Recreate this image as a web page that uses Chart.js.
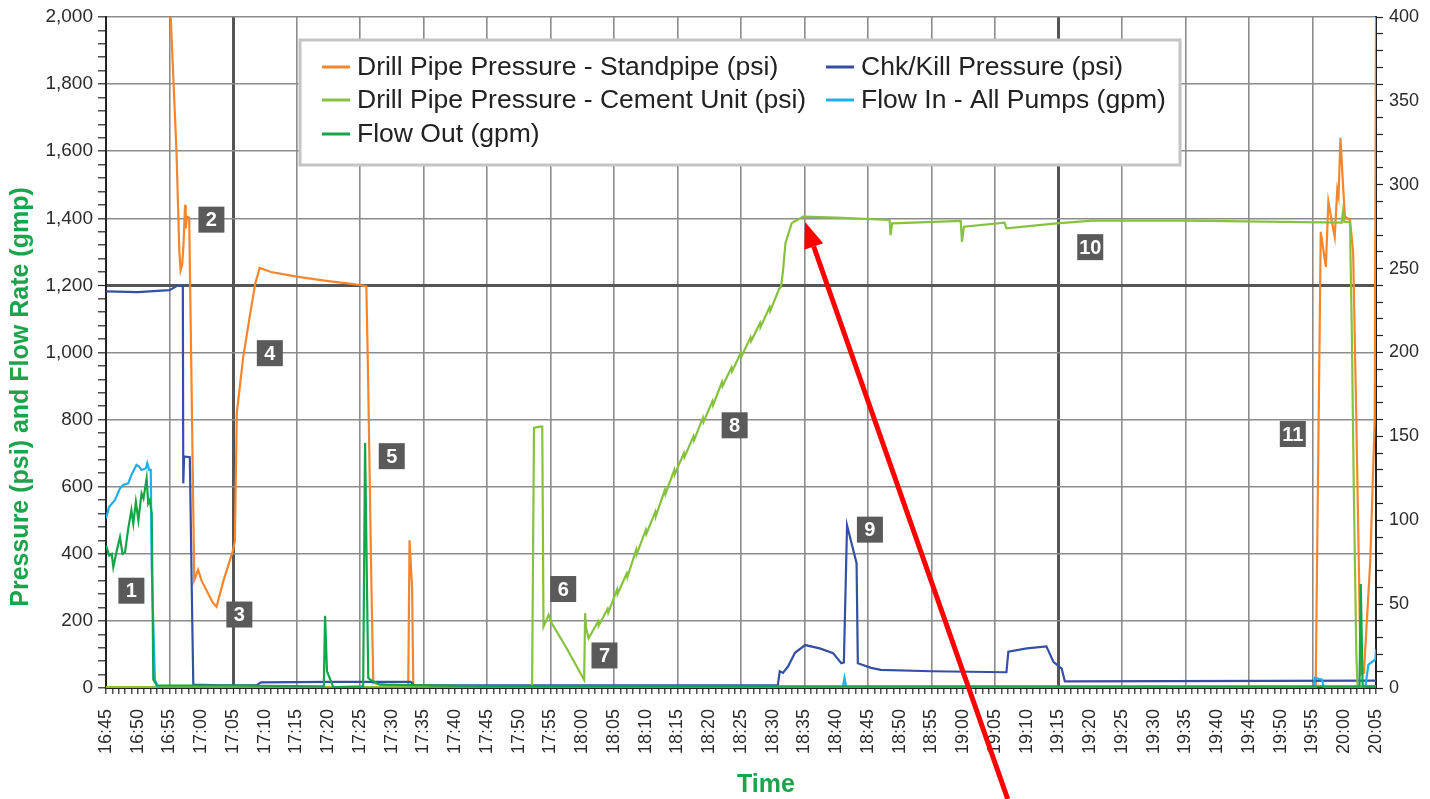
<!DOCTYPE html>
<html>
<head>
<meta charset="utf-8">
<script src="https://cdn.jsdelivr.net/npm/chart.js@4.4.1/dist/chart.umd.min.js"></script>
<style>
  html, body { margin: 0; padding: 0; background: #fff; }
  #wrap { width: 1430px; height: 799px; position: relative; }
</style>
</head>
<body>
<div id="wrap"><canvas id="chart"></canvas></div>
<script>
// time is in minutes after 16:45, pressures in psi, flows in gpm
const startMinute = 16 * 60 + 45;

const standpipe = [
  [10.0, 2100], [10.2, 2000], [10.6, 1820], [11.1, 1600], [11.55, 1300], [11.75, 1245], [12.0, 1262],
  [12.2, 1320], [12.45, 1440], [12.55, 1370], [12.75, 1405], [13.1, 1402], [13.4, 1000], [13.9, 322],
  [14.5, 352], [15.05, 320], [16.0, 285], [16.8, 255], [17.4, 242], [18.5, 320], [20.0, 410],
  [20.3, 440], [20.6, 820], [21.6, 985], [22.7, 1115], [23.5, 1205], [24.2, 1252], [26.0, 1240],
  [30.0, 1226], [35.0, 1213], [39.0, 1204], [41.0, 1198], [41.3, 900], [41.8, 300], [42.1, 15],
  [44.0, 10], [47.6, 8], [47.8, 440], [48.2, 300], [48.4, 5], [60.0, 3], [190.5, 3], [191.3, 1360],
  [192.1, 1255], [192.5, 1450], [193.0, 1395], [193.5, 1345], [193.9, 1485], [194.1, 1465],
  [194.4, 1640], [194.7, 1535], [195.1, 1405], [195.9, 1395], [196.4, 1300], [196.9, 800],
  [197.6, 40], [198.1, 45], [199.1, 380], [199.8, 800], [200.0, 2000]
];

const chkKill = [
  [0, 1182], [5, 1180], [10, 1186], [11.2, 1199], [12.1, 1199], [12.17, 610], [12.3, 690],
  [13.2, 688], [13.5, 300], [13.75, 10], [18, 8], [23.7, 8], [24.4, 17], [35, 18], [48, 18],
  [48.5, 8], [105.8, 8], [106.1, 50], [106.6, 45], [107.4, 64], [108.5, 105], [110.1, 128],
  [112.4, 118], [114.5, 104], [115.8, 74], [116.2, 76], [116.7, 485], [118.2, 372], [118.4, 74],
  [119.3, 68], [120.5, 60], [122, 54], [130, 50], [141.8, 47], [142.1, 108], [145, 118],
  [148.1, 124], [149.2, 78], [150.5, 58], [151.0, 20], [200, 22]
];

const cementUnit = [
  [0, 3], [67.1, 3], [67.4, 775], [68.3, 779], [68.7, 779], [68.9, 183], [69.3, 200], [69.7, 218],
  [70.2, 193], [72.5, 120], [75.3, 24], [75.45, 223], [75.6, 180], [76.0, 148],
  [77.5, 198], [77.6, 186], [79.0, 236], [79.1, 224], [80.5, 294], [80.6, 282], [82.0, 341],
  [82.1, 330], [83.5, 412], [83.6, 400], [85.0, 471], [85.1, 459], [86.5, 525], [86.6, 513],
  [88.0, 590], [88.1, 578], [89.5, 650], [89.6, 638], [91.0, 700], [91.1, 688], [92.5, 750],
  [92.6, 738], [94.0, 805], [94.1, 793], [95.5, 855], [95.6, 843], [97.0, 912], [97.1, 900],
  [98.5, 955], [98.6, 944], [100.0, 1000], [100.1, 989], [101.5, 1045], [101.6, 1034],
  [103.0, 1088], [103.1, 1077], [104.5, 1135], [104.6, 1124], [106.0, 1190], [106.3, 1196],
  [106.6, 1240], [107.0, 1326], [108.0, 1386], [109.8, 1405], [115, 1402], [123.4, 1395],
  [123.55, 1350], [123.8, 1385], [134.6, 1392], [134.8, 1330], [135.1, 1375], [141.5, 1387],
  [141.8, 1370], [149.7, 1385], [155.4, 1393], [170, 1393], [194.6, 1387], [194.8, 1420],
  [195.0, 1390], [195.9, 1388], [196.2, 1050], [196.5, 600], [196.9, 100], [197.1, 5], [200, 5]
];

const flowIn = [
  [0, 101], [0.5, 108], [1.4, 112], [2.2, 119], [2.7, 121], [3.5, 122], [4.0, 127], [4.8, 133],
  [5.2, 132], [5.6, 130], [6.3, 131], [6.5, 134], [6.8, 130], [7.05, 130], [7.2, 72], [7.7, 5],
  [8.25, 0], [116.0, 0], [116.3, 6], [116.6, 0], [190.1, 0], [190.4, 6], [191.5, 5], [191.8, 0],
  [198.3, 0], [198.8, 14], [199.9, 17], [200, 23]
];

const flowOut = [
  [0, 85], [0.5, 79], [0.9, 80], [1.15, 72], [1.7, 82], [2.2, 90], [2.6, 80], [3.0, 81], [3.5, 95],
  [4.0, 106], [4.3, 98], [4.7, 111], [5.1, 100], [5.6, 116], [5.9, 113], [6.4, 125], [6.65, 110],
  [6.9, 112], [7.2, 104], [7.45, 5], [8.0, 1.5], [12, 1.5], [20, 1.5], [34.3, 1], [34.5, 43],
  [34.8, 10], [35.8, 0.5], [40.5, 1], [40.8, 146], [41.1, 60], [41.3, 6], [41.6, 5], [43.1, 2],
  [60, 1], [100, 1], [197.4, 1], [197.6, 62], [197.9, 1], [200, 1]
];

const seriesLabels = [
  'Drill Pipe Pressure - Standpipe (psi)', 'Chk/Kill Pressure (psi)',
  'Drill Pipe Pressure - Cement Unit (psi)', 'Flow In - All Pumps (gpm)', 'Flow Out (gpm)'
];
const seriesColors = ['#f5862e', '#3450a3', '#86c23f', '#1db0ea', '#17a54a'];

// numbered event boxes
const noteLabels = ['1', '2', '3', '4', '5', '6', '7', '8', '9', '10', '11'];
const noteTimes = [4.0, 16.6, 21.0, 25.8, 45.0, 72.0, 78.5, 99.0, 120.3, 155.0, 186.9];
const noteValues = [290, 1396, 219, 998, 691, 295, 97, 783, 472, 1314, 757];

// red arrow: from (time, psi) to (time, psi)
const arrowFrom = [142.0, -331];
const arrowTo = [110.1, 1389];

const xTitle = 'Time';
const yTitle = 'Pressure (psi) and Flow Rate (gmp)';

const fontFamily = '"Liberation Sans", Arial, sans-serif';
const titleGreen = '#1ca34c';

function toXY(arr) {
  return arr.map(p => ({ x: p[0], y: p[1] }));
}

function clock(v) {
  const t = startMinute + v;
  const h = Math.floor(t / 60), m = t % 60;
  return h + ':' + String(m).padStart(2, '0');
}

const seriesData = [standpipe, chkKill, cementUnit, flowIn, flowOut];
const seriesAxis = ['y', 'y', 'y', 'y1', 'y1'];

const datasets = seriesData.map((d, i) => ({
  label: seriesLabels[i],
  data: toXY(d),
  yAxisID: seriesAxis[i],
  borderColor: seriesColors[i],
  backgroundColor: seriesColors[i],
  borderWidth: 2.2,
  pointRadius: 0,
  tension: 0,
  order: 4 - i
}));

const overlayPlugin = {
  id: 'overlay',
  afterDraw(chart) {
    const ctx = chart.ctx;
    const x = chart.scales.x, y = chart.scales.y;

    // axis titles
    ctx.save();
    ctx.fillStyle = titleGreen;
    ctx.font = 'bold 25px ' + fontFamily;
    ctx.textAlign = 'center';
    ctx.textBaseline = 'middle';
    ctx.fillText(xTitle, 766, 785);
    ctx.translate(21, 397);
    ctx.rotate(-Math.PI / 2);
    ctx.fillText(yTitle, 0, 0);
    ctx.restore();

    // numbered boxes
    ctx.save();
    ctx.font = 'bold 20px ' + fontFamily;
    ctx.textAlign = 'center';
    ctx.textBaseline = 'middle';
    noteLabels.forEach((lab, i) => {
      const cx = x.getPixelForValue(noteTimes[i]);
      const cy = y.getPixelForValue(noteValues[i]);
      const w = 26, h = 26;
      ctx.fillStyle = '#5a5a5a';
      ctx.fillRect(cx - w / 2, cy - h / 2, w, h);
      ctx.fillStyle = '#fff';
      ctx.fillText(lab, cx, cy + 1);
    });
    ctx.restore();

    // legend box
    ctx.save();
    ctx.fillStyle = '#fff';
    ctx.fillRect(300, 40, 880, 125);
    ctx.strokeStyle = '#c4c4c4';
    ctx.lineWidth = 3;
    ctx.strokeRect(300, 40, 880, 125);
    ctx.font = '26.5px ' + fontFamily;
    ctx.textBaseline = 'middle';
    ctx.textAlign = 'left';
    const colX = [322, 826];
    const rowY = [67, 100, 134];
    chart.data.datasets.forEach((ds, i) => {
      const lx = colX[i % 2], ly = rowY[Math.floor(i / 2)];
      ctx.strokeStyle = ds.borderColor;
      ctx.lineWidth = 3;
      ctx.beginPath();
      ctx.moveTo(lx, ly);
      ctx.lineTo(lx + 28, ly);
      ctx.stroke();
      ctx.fillStyle = '#222';
      ctx.fillText(ds.label, lx + 35, ly + 1);
    });
    ctx.restore();

    // red arrow
    const x0 = x.getPixelForValue(arrowFrom[0]), y0 = y.getPixelForValue(arrowFrom[1]);
    const x1 = x.getPixelForValue(arrowTo[0]), y1 = y.getPixelForValue(arrowTo[1]);
    const ang = Math.atan2(y1 - y0, x1 - x0);
    const headLen = 26, headW = 10;
    const bx = x1 - headLen * Math.cos(ang), by = y1 - headLen * Math.sin(ang);
    ctx.save();
    ctx.strokeStyle = '#f00';
    ctx.fillStyle = '#f00';
    ctx.lineWidth = 5;
    ctx.beginPath();
    ctx.moveTo(x0, y0);
    ctx.lineTo(bx, by);
    ctx.stroke();
    ctx.beginPath();
    ctx.moveTo(x1, y1);
    ctx.lineTo(bx + headW * Math.sin(ang), by - headW * Math.cos(ang));
    ctx.lineTo(bx - headW * Math.sin(ang), by + headW * Math.cos(ang));
    ctx.closePath();
    ctx.fill();
    ctx.restore();
  }
};

const ctx = document.getElementById('chart');
new Chart(ctx, {
  type: 'line',
  data: { datasets: datasets },
  options: {
    responsive: true,
    maintainAspectRatio: false,
    animation: false,
    events: [],
    layout: { padding: { top: 17, left: 0, right: 0, bottom: 0 } },
    plugins: { legend: { display: false }, tooltip: { enabled: false } },
    scales: {
      x: {
        type: 'linear',
        min: 0,
        max: 200,
        afterFit(s) { s.height = 111; },
        ticks: {
          stepSize: 1,
          autoSkip: false,
          minRotation: 90,
          maxRotation: 90,
          padding: 15,
          color: '#2b2b2b',
          font: { family: fontFamily, size: 18 },
          callback: v => (v % 5 === 0 ? clock(v) : '')
        },
        grid: {
          color: c => (c.tick.value % 10 === 0 ? ((c.tick.value === 20 || c.tick.value === 150) ? '#555' : '#8c8c8c') : 'rgba(0,0,0,0)'),
          lineWidth: c => ((c.tick.value === 20 || c.tick.value === 150) ? 3 : 1.6),
          tickColor: '#222',
          tickWidth: 1.2,
          tickLength: 6
        },
        border: { color: '#222', width: 2 }
      },
      y: {
        position: 'left',
        min: 0,
        max: 2000,
        afterFit(s) { s.width = 106; },
        ticks: {
          stepSize: 40,
          autoSkip: false,
          padding: 5,
          color: '#2b2b2b',
          font: { family: fontFamily, size: 19 },
          callback: v => (v % 200 === 0 ? v.toLocaleString('en-US') : '')
        },
        grid: {
          color: c => (c.tick.value % 200 === 0 ? (c.tick.value === 1200 ? '#555' : '#8c8c8c') : 'rgba(0,0,0,0)'),
          lineWidth: c => (c.tick.value === 1200 ? 3 : 1.6),
          tickColor: '#222',
          tickWidth: 1.2,
          tickLength: 8
        },
        border: { color: '#222', width: 2 }
      },
      y1: {
        position: 'right',
        min: 0,
        max: 400,
        afterFit(s) { s.width = 54; },
        ticks: {
          stepSize: 10,
          autoSkip: false,
          padding: 6,
          color: '#2b2b2b',
          font: { family: fontFamily, size: 18 },
          callback: v => (v % 50 === 0 ? String(v) : '')
        },
        grid: {
          drawOnChartArea: false,
          tickColor: '#222',
          tickWidth: 1.2,
          tickLength: 7
        },
        border: { color: '#222', width: 2 }
      }
    }
  },
  plugins: [overlayPlugin]
});
</script>
</body>
</html>
